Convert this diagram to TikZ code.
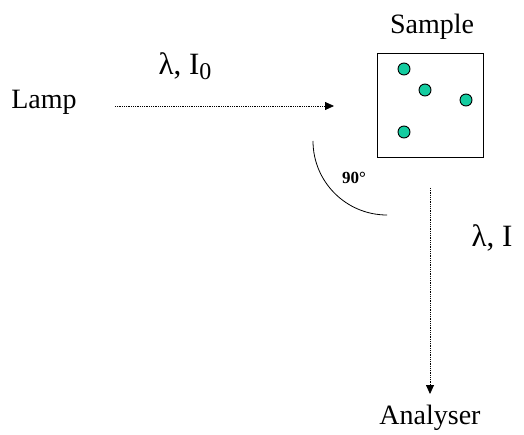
\documentclass[tikz,border=0pt]{standalone}
\usepackage{fontspec}
\setmainfont{Liberation Serif}
\usetikzlibrary{arrows.meta}
\definecolor{dotcol}{RGB}{20,204,160}
\tikzset{
  lbl/.style={inner sep=0pt, font=\fontsize{28}{31}\selectfont},
  big/.style={inner sep=0pt, font=\fontsize{31}{34}\selectfont},
  ray/.style={densely dotted, line width=0.8pt, -{Triangle[length=9pt,width=8pt]}},
  dot/.style={circle, draw=black, line width=0.9pt, fill=dotcol, minimum size=12pt, inner sep=0pt},
}
\begin{document}
\begin{tikzpicture}[x=1pt,y=-1pt]
\useasboundingbox (0,0) rectangle (524,435);
\node[lbl] (lamp) at (44,102) {Lamp};
\node[big] (l0) at (185,66) {λ, I\raisebox{-0.35ex}{\fontsize{24}{26}\selectfont 0}};
\node[draw, line width=0.9pt, minimum width=106pt, minimum height=104pt, inner sep=0pt] (box) at (430,105) {};
\node[lbl] (sample) at (432,27) {Sample};
\node[dot] (d1) at (404,69) {};
\node[dot] (d2) at (425,90) {};
\node[dot] (d3) at (466,100) {};
\node[dot] (d4) at (404,132) {};
\coordinate (a1) at (115,106);
\coordinate (a2) at (334,106);
\draw[ray] (a1) -- (a2);
\coordinate (arcstart) at (313,141);
\draw[line width=0.8pt] (arcstart) arc[start angle=180, end angle=90, radius=74];
\node[inner sep=0pt, font=\bfseries\fontsize{17}{19}\selectfont] (ang) at (354,178) {90°};
\coordinate (b1) at (430,188);
\coordinate (b2) at (430,394);
\draw[ray] (b1) -- (b2);
\node[big] (li) at (492,238) {λ, I};
\node[lbl] (an) at (430,418) {Analyser};
\end{tikzpicture}
\end{document}
